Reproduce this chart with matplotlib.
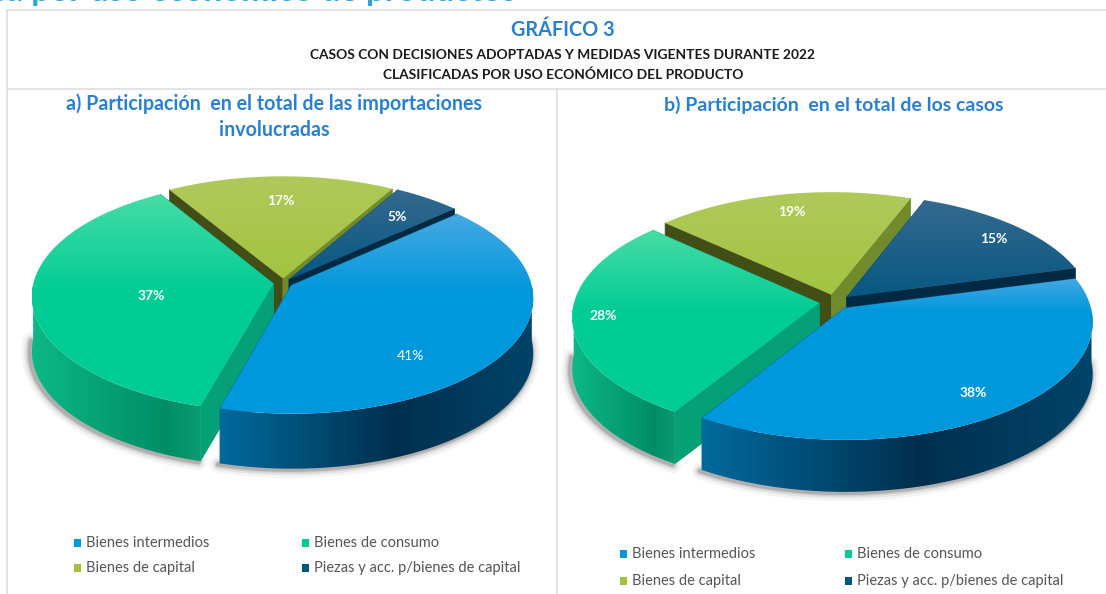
import numpy as np
import matplotlib
matplotlib.use("Agg")
import matplotlib.pyplot as plt
from matplotlib.patches import Polygon, Rectangle
from matplotlib.colors import LinearSegmentedColormap

# datos
categorias = ["Bienes intermedios", "Bienes de consumo", "Bienes de capital", "Piezas y acc. p/bienes de capital"]
valores_a = [41, 37, 17, 5]
valores_b = [38, 28, 19, 15]

titulo = "GRÁFICO 3"
subtitulo_1 = "CASOS CON DECISIONES ADOPTADAS Y MEDIDAS VIGENTES DURANTE 2022"
subtitulo_2 = "CLASIFICADAS POR USO ECONÓMICO DEL PRODUCTO"
titulo_a = ["a) Participación  en el total de las importaciones", "involucradas"]
titulo_b = ["b) Participación  en el total de los casos"]

# colores de cada porcion: cara, cara clara (atras), pared exterior, caras de corte
estilos = [
    dict(top="#0098dc", light="#45a8e2", rim=["#006a9c", "#002f4e", "#004468"], rim_pos=0.56, cut0="#00618f", cut1="#00618f"),
    dict(top="#00cc94", light="#48dca6", rim=["#0cb886", "#008d66", "#0a9c70"], rim_pos=0.8, cut0="#06a076", cut1="#06a076"),
    dict(top="#a2c23c", light="#b0c95c", rim=["#7d9a30", "#6d8a2c", "#7d9a3c"], rim_pos=0.5, cut0="#434e17", cut1="#708a2c"),
    dict(top="#005580", light="#35698e", rim=["#004a70", "#003a58", "#00324c"], rim_pos=0.5, cut0="#004a70", cut1="#002a44"),
]
azul_titulo = "#2a80d0"
FUENTE = "Lato"

plt.rcParams["font.family"] = [FUENTE, "DejaVu Sans"]

fig = plt.figure(figsize=(11.06, 5.94), dpi=100)
ax = fig.add_axes([0, 0, 1, 1])
ax.set_xlim(0, 1106)
ax.set_ylim(594, 0)
ax.axis("off")


def proyectar(px, py, cx, cy, rx, ry, k):
    # circulo unitario -> plano de la imagen, el fondo queda mas chico
    w = 1 + k * py
    return cx + rx * px / w, cy - ry * py / w


def degrade(puntos, valores, cm, z, vertical):
    # imagen de degrade recortada con el poligono
    clip = Polygon(puntos, transform=ax.transData, fc="none", ec="none", zorder=z)
    ax.add_patch(clip)
    datos = valores[:, None] if vertical else valores[None, :]
    im = ax.imshow(datos, cmap=cm, vmin=0, vmax=1, aspect="auto", interpolation="bilinear",
                   extent=(puntos[:, 0].min(), puntos[:, 0].max(), puntos[:, 1].max(), puntos[:, 1].min()),
                   zorder=z)
    im.set_clip_path(clip)


def dibujar_torta(valores, inicio, cx, cy, rx, ry, k, prof, explode, etiquetas):
    fracc = np.array(valores) / sum(valores)
    cortes = inicio - np.concatenate([[0], np.cumsum(fracc)]) * 360
    orden = [2, 3, 1, 0]  # atras primero
    for i in orden:
        est = estilos[i]
        t0, t1 = cortes[i], cortes[i + 1]
        medio = np.radians((t0 + t1) / 2)
        ox, oy = explode * np.cos(medio), explode * np.sin(medio)
        t = np.radians(np.linspace(t0, t1, 120))
        xa, ya = proyectar(ox + np.cos(t), oy + np.sin(t), cx, cy, rx, ry, k)
        x0, y0 = proyectar(ox, oy, cx, cy, rx, ry, k)
        z = 5 + orden.index(i)
        frente = np.sin(t) < 0

        # sombra difusa bajo la pared
        if frente.sum() > 1:
            for lw, al in zip([12, 8, 5, 3], [0.05, 0.08, 0.12, 0.2]):
                ax.plot(xa[frente] - 2, ya[frente] + prof + 1, color="#333333", lw=lw, alpha=al,
                        zorder=1, solid_capstyle="round")

        # caras de corte
        for (xe, ye), col in (((xa[0], ya[0]), est["cut0"]), ((xa[-1], ya[-1]), est["cut1"])):
            ax.add_patch(Polygon([(x0, y0), (xe, ye), (xe, ye + prof), (x0, y0 + prof)],
                                 fc=col, ec=col, lw=0.5, zorder=z))

        # pared exterior con degrade horizontal
        if frente.sum() > 1:
            xf, yf = xa[frente], ya[frente]
            pared = np.column_stack([np.r_[xf, xf[::-1]], np.r_[yf, yf[::-1] + prof]])
            cm = LinearSegmentedColormap.from_list(
                "rim", list(zip([0, est["rim_pos"], 1], est["rim"])))
            degrade(pared, np.linspace(0, 1, 256), cm, z + 0.2, False)

        # cara superior con degrade vertical
        pts = np.column_stack([np.r_[x0, xa], np.r_[y0, ya]])
        cm2 = LinearSegmentedColormap.from_list("top", [est["light"], est["top"]])
        ymin, ymax = pts[:, 1].min(), pts[:, 1].max()
        grad = np.clip((np.linspace(ymin, ymax, 128) - ymin) / max(cy + 10 - ymin, 1), 0, 1)
        degrade(pts, grad, cm2, z + 0.5, True)

    for i, (ex, ey) in enumerate(etiquetas):
        ax.text(ex, ey, f"{valores[i]}%", color="white", fontsize=10,
                fontweight="bold" if valores[i] != 41 else "normal",
                ha="center", va="center", zorder=20)


dibujar_torta(valores_a, 42, 283, 283, 240, 114, 0.107, 55, 0.04,
              [(410, 356), (151, 296), (281, 201), (397, 217)])
dibujar_torta(valores_b, 15, 835, 302, 245, 115.6, 0.112, 52, 0.065,
              [(973, 393), (603, 316), (792, 212), (994, 239)])
ax.set_xlim(0, 1106)
ax.set_ylim(594, 0)

# marco
gris = "#dedede"
ax.plot([7, 1106], [10, 10], color=gris, lw=1.2)
ax.plot([7, 7], [10, 594], color=gris, lw=1.2)
ax.plot([7, 1106], [89, 89], color=gris, lw=1.2)
ax.plot([557, 557], [89, 594], color=gris, lw=1.2)

# encabezado de la pagina, cortado arriba como en el original
ax.text(-10, 1, "ca por uso económico de productos", color="#2fa3d8", fontsize=24, fontweight="bold",
        ha="left", va="baseline")

ax.text(563, 30, titulo, color=azul_titulo, fontsize=14.3, fontweight="bold", ha="center", va="center")
ax.text(563, 55, subtitulo_1, color="#1a1a1a", fontsize=9.9, fontweight="bold", ha="center", va="center")
ax.text(563, 75, subtitulo_2, color="#1a1a1a", fontsize=9.9, fontweight="bold", ha="center", va="center")

for j, linea in enumerate(titulo_a):
    ax.text(274, 104 + j * 26, linea, color=azul_titulo, fontsize=14.1, fontweight="bold", ha="center", va="center")
ax.text(834, 105, titulo_b[0], color=azul_titulo, fontsize=14, fontweight="bold", ha="center", va="center")


def leyenda(xs, ys):
    for i, nombre in enumerate(categorias):
        x = xs[i % 2]
        y = ys[i // 2]
        ax.add_patch(Rectangle((x, y - 4), 7, 8, fc=estilos[i]["top"], ec="none"))
        ax.text(x + 12, y, nombre, color="#555555", fontsize=10.5, ha="left", va="center")


leyenda([74, 302], [543, 568])
leyenda([620, 845], [554, 581])

fig.savefig("out.png", dpi=100)
